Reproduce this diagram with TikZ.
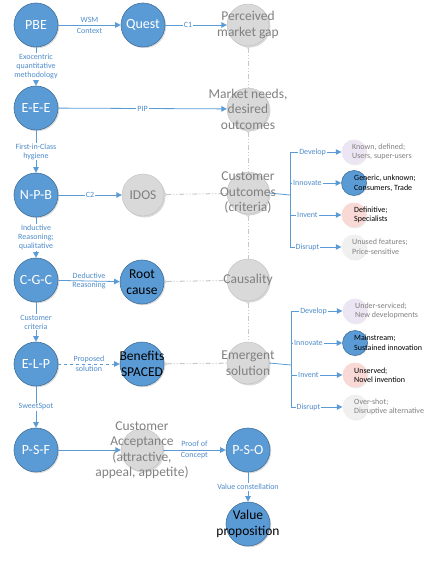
\documentclass[tikz,border=0pt]{standalone}
\usepackage{fontspec}
\setmainfont{Carlito}
\usetikzlibrary{shadows,arrows.meta}
\definecolor{nblue}{HTML}{5B9BD5}
\definecolor{nbord}{HTML}{41719C}
\definecolor{ngray}{HTML}{D9D9D9}
\definecolor{tgray}{HTML}{808080}
\definecolor{lblue}{HTML}{5B9BD5}
\definecolor{labblue}{HTML}{4F8CCB}
\definecolor{dgray}{HTML}{C8C8C8}
\definecolor{lav}{HTML}{ECE6F4}
\definecolor{pinkf}{HTML}{F9D9D6}
\definecolor{lgrayf}{HTML}{F0F0F0}
\begin{document}
\begin{tikzpicture}[x=1pt,y=-1pt,
  bnode/.style={circle, fill=nblue, draw=nbord, line width=0.6pt, minimum size=44pt, inner sep=0pt,
    text=white, font=\fontsize{14}{16}\selectfont,
    drop shadow={shadow xshift=1.2pt,shadow yshift=-1.2pt,opacity=0.3}},
  gcirc/.style={circle, fill=ngray, draw=ngray!85!black, line width=0.3pt, minimum size=42pt, inner sep=0pt,
    drop shadow={shadow xshift=1.5pt,shadow yshift=-1.5pt,opacity=0.3}},
  gtext/.style={text=tgray, font=\fontsize{13.5}{15.5}\selectfont, align=center, inner sep=0pt},
  btext/.style={text=black, font=\fontsize{13.5}{15.5}\selectfont, align=center, inner sep=0pt},
  bline/.style={draw=lblue, line width=0.8pt},
  barrow/.style={bline, -{Triangle[length=5.5pt,width=5.5pt]}},
  gline/.style={draw=dgray, line width=1pt, dash pattern=on 5pt off 2pt on 1pt off 2pt on 1pt off 2pt,
    {Straight Barb[reversed,length=2pt,width=4pt,line width=0.6pt]}-},
  elab/.style={text=labblue, font=\fontsize{8}{9}\selectfont, align=center, inner sep=1pt},
  elabf/.style={elab, fill=white},
  scirc/.style={circle, minimum size=25pt, inner sep=0pt,
    drop shadow={shadow xshift=1pt,shadow yshift=-1pt,opacity=0.15}},
  stext/.style={font=\fontsize{8}{9.5}\selectfont, align=left, inner sep=0pt, anchor=west},
  slab/.style={text=labblue, font=\fontsize{8}{9}\selectfont, fill=white, inner sep=1pt}
]
\useasboundingbox (0,0) rectangle (439,561);

% left column
\node[bnode] (pbe) at (36,25) {PBE};
\node[bnode] (eee) at (36,108) {E-E-E};
\node[bnode] (npb) at (36,195) {N-P-B};
\node[bnode] (cgc) at (36,280) {C-G-C};
\node[bnode] (elp) at (36,364) {E-L-P};
\node[bnode] (psf) at (36,450) {P-S-F};

% second column
\node[bnode] (quest) at (143,25) {Quest};
\node[gcirc] (idos) at (143,195) {};
\node[gtext] at (idos) {IDOS};
\node[bnode] (root) at (142,282) {};
\node[bnode] (ben) at (142,364) {};
\node[gcirc] (ca) at (142,450) {};

% gray column
\node[gcirc] (pmg) at (248,25) {};
\node[gcirc] (mnd) at (248,109) {};
\node[gcirc] (co) at (248,193) {};
\node[gcirc] (cau) at (248,280) {};
\node[gcirc] (em) at (248,363) {};
\node[bnode] (pso) at (248,450) {P-S-O};
\node[bnode] (vp) at (248,524) {};

% left vertical arrows
\draw[barrow] (pbe) -- node[elabf]{Exocentric\\quantitative\\methodology} (eee);
\draw[barrow] (eee) -- node[elabf]{First-in-Class\\hygiene} (npb);
\draw[barrow] (npb) -- node[elabf]{Inductive\\Reasoning;\\qualitative} (cgc);
\draw[barrow] (cgc) -- node[elabf]{Customer\\criteria} (elp);
\draw[barrow] (elp) -- node[elabf]{SweetSpot} (psf);

% horizontal arrows
\draw[barrow] (pbe) -- node[elab]{WSM\\[2pt]Context} (quest);
\draw[barrow] (quest) -- node[elabf,pos=0.37]{C1} (pmg);
\draw[barrow] (eee) -- node[elabf]{PIP} (mnd);
\draw[barrow] (npb) -- node[elabf]{C2} (idos);
\draw[barrow] (cgc) -- node[elab]{Deductive\\Reasoning} (root);
\draw[barrow, dashed] (elp) -- node[elab]{Proposed\\[1pt]solution} (ben);
\draw[barrow] (psf) -- (ca);
\draw[barrow] (ca) -- node[elab]{Proof of\\[2pt]Concept} (pso);
\draw[barrow] (pso) -- node[elabf]{Value constellation} (vp);

% gray connectors
\draw[gline] (pmg) -- (mnd);
\draw[gline] (mnd) -- (co);
\draw[gline] (co) -- (cau);
\draw[gline] (cau) -- (em);
\draw[gline] (idos) -- (co);
\draw[gline] (root) -- (cau);
\draw[gline] (ben) -- (em);

% first branch group
\node[scirc, fill=lav] (s1) at (354,152) {};
\node[scirc, fill=nblue, draw=nbord, line width=0.6pt] (s2) at (354,183) {};
\node[scirc, fill=pinkf] (s3) at (354,215) {};
\node[scirc, fill=lgrayf] (s4) at (354,247) {};
\coordinate (bus1) at (290,195);
\draw[bline] (co.east) -- (bus1);
\draw[barrow] (bus1) |- node[slab,pos=0.72]{Develop} (s1);
\draw[barrow] (bus1) |- node[slab,pos=0.67]{Innovate} (s2);
\draw[barrow] (bus1) |- node[slab,pos=0.67]{Invent} (s3);
\draw[barrow] (bus1) |- node[slab,pos=0.67]{Disrupt} (s4);
\node[stext, text=tgray] at ([xshift=-2pt]s1.center) {Known, defined;\\Users, super-users};
\node[stext, text=black] at ([xshift=0pt]s2.center) {Generic, unknown;\\Consumers, Trade};
\node[stext, text=black] at ([xshift=0pt]s3.center) {Definitive;\\Specialists};
\node[stext, text=tgray] at ([xshift=-2pt]s4.center) {Unused features;\\Price-sensitive};

% second branch group
\node[scirc, fill=lav] (t1) at (355,311) {};
\node[scirc, fill=nblue, draw=nbord, line width=0.6pt] (t2) at (355,343) {};
\node[scirc, fill=pinkf] (t3) at (355,375) {};
\node[scirc, fill=lgrayf] (t4) at (355,407) {};
\coordinate (bus2) at (291,365);
\draw[bline] (em.east) -- (bus2);
\draw[barrow] (bus2) |- node[slab,pos=0.72]{Develop} (t1);
\draw[barrow] (bus2) |- node[slab,pos=0.67]{Innovate} (t2);
\draw[barrow] (bus2) |- node[slab,pos=0.67]{Invent} (t3);
\draw[barrow] (bus2) |- node[slab,pos=0.67]{Disrupt} (t4);
\node[stext, text=tgray] at ([xshift=0pt]t1.center) {Under-serviced;\\New developments};
\node[stext, text=black] at ([xshift=-1pt]t2.center) {Mainstream;\\Sustained innovation};
\node[stext, text=black] at ([xshift=-1pt]t3.center) {Unserved;\\Novel invention};
\node[stext, text=tgray] at ([xshift=-1pt]t4.center) {Over-shot;\\Disruptive alternative};

% overflowing texts
\node[btext] at (root) {Root\\cause};
\node[btext] at (ben) {Benefits\\SPACED};
\node[btext] at (vp) {Value\\proposition};
\node[gtext] at (pmg) {Perceived\\market gap};
\node[gtext] at (mnd) {Market needs,\\desired\\outcomes};
\node[gtext] at (co) {Customer\\Outcomes\\(criteria)};
\node[gtext] at (cau) {Causality};
\node[gtext] at (em) {Emergent\\solution};
\node[gtext] at (ca) {Customer\\Acceptance\\(attractive,\\appeal, appetite)};
\end{tikzpicture}
\end{document}
